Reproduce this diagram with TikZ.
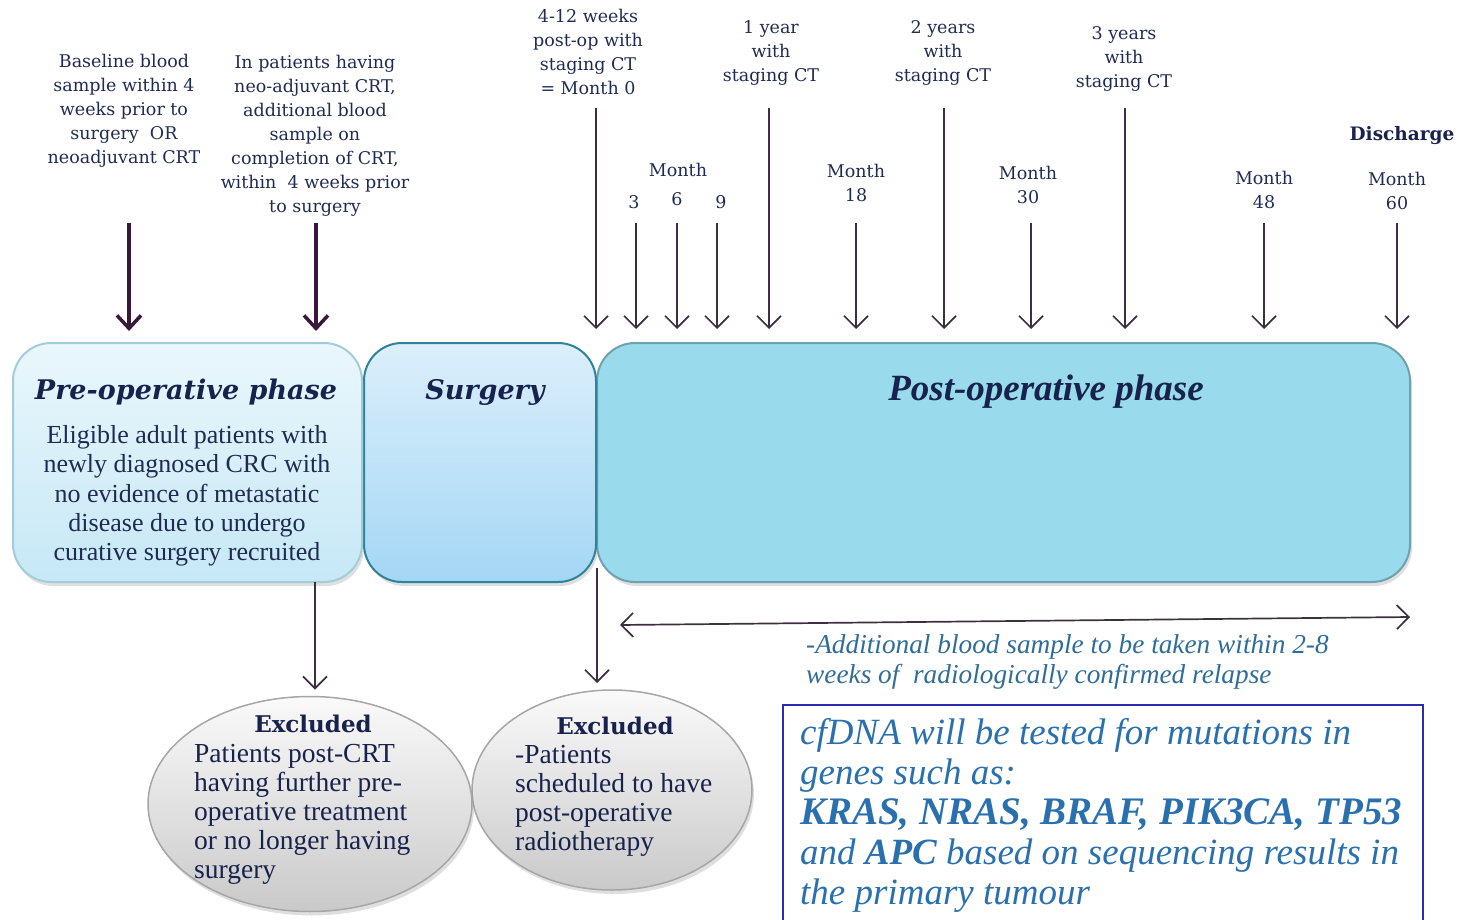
\documentclass[tikz,border=0pt]{standalone}
\usepackage{fontspec}
\setmainfont{Liberation Serif}
\newfontfamily\dvs{DejaVu Serif}
\usetikzlibrary{arrows.meta,shadows,shapes.geometric}
\definecolor{navy}{HTML}{1F2B52}
\definecolor{titlec}{HTML}{17224D}
\definecolor{arrowc}{HTML}{3D2F40}
\definecolor{thickc}{HTML}{38193B}
\definecolor{preborder}{HTML}{A3CCDB}
\definecolor{pretop}{HTML}{EAF7FC}
\definecolor{prebot}{HTML}{C6E8F6}
\definecolor{surgborder}{HTML}{2E8398}
\definecolor{surgtop}{HTML}{DCEFFB}
\definecolor{surgbot}{HTML}{A4D6F5}
\definecolor{postborder}{HTML}{6FA2AF}
\definecolor{postfill}{HTML}{99DBEC}
\definecolor{bluetext}{HTML}{2A70AE}
\definecolor{relapsec}{HTML}{2F6D98}
\definecolor{boxblue}{HTML}{2B2BB0}
\tikzset{
  toplabel/.style={inner sep=0pt, align=center, text=navy, font=\dvs\fontsize{17.5}{24}\selectfont},
  phasebox/.style={inner sep=0pt, outer sep=0pt, line width=2pt, rounded corners=38pt,
     drop shadow={shadow xshift=2pt, shadow yshift=-4pt, opacity=0.25}},
  thinarrow/.style={draw=arrowc, line width=1.7pt, -{Straight Barb[length=12pt,width=24pt,line width=1.7pt]}},
  thickarrow/.style={draw=thickc, line width=4pt, -{Straight Barb[length=13pt,width=24pt,line width=3.5pt]}},
  exclbox/.style={ellipse, inner sep=0pt, outer sep=0pt, draw=gray!70, line width=1.5pt,
     top color=white!96!gray, bottom color=gray!42,
     drop shadow={shadow xshift=2pt, shadow yshift=-4pt, opacity=0.25}},
  excltitle/.style={inner sep=0pt, text=titlec, font=\dvs\bfseries\fontsize{23}{28}\selectfont},
  excltext/.style={inner sep=0pt, align=left, text=titlec, font=\fontsize{27.5}{29}\selectfont},
}
\begin{document}
\begin{tikzpicture}[x=1pt,y=-1pt]
\useasboundingbox (0,0) rectangle (1459,920);

% phase boxes
\node[phasebox, draw=postborder, fill=postfill, minimum width=813pt, minimum height=239pt] (post) at (1003.5,462.5) {};
\node[phasebox, draw=surgborder, top color=surgtop, bottom color=surgbot, minimum width=232pt, minimum height=239pt] (surg) at (480,462.5) {};
\node[phasebox, draw=preborder, top color=pretop, bottom color=prebot, minimum width=349pt, minimum height=239pt] (pre) at (187.5,462.5) {};

\node[inner sep=0pt, text=titlec, font=\dvs\bfseries\itshape\fontsize{27}{30}\selectfont] (pretitle) at (186,392) {Pre-operative phase};
\node[inner sep=0pt, text=titlec, font=\dvs\bfseries\itshape\fontsize{27}{30}\selectfont] (surgtitle) at (485,392) {Surgery};
\node[inner sep=0pt, text=titlec, font=\bfseries\itshape\fontsize{37}{40}\selectfont] (posttitle) at (1046,392) {Post-operative phase};
\node[inner sep=0pt, align=center, text=navy, font=\fontsize{26}{29.3}\selectfont] (prebody) at (187,496) {Eligible adult patients with\\newly diagnosed CRC with\\no evidence of metastatic\\disease due to undergo\\curative surgery recruited};

% top labels
\node[toplabel] (l1) at (124,111) {Baseline blood\\sample within 4\\weeks prior to\\surgery\ \ OR\\neoadjuvant CRT};
\node[toplabel] (l2) at (315,136) {In patients having\\neo-adjuvant CRT,\\additional blood\\sample on\\completion of CRT,\\within\ \ 4 weeks prior\\to surgery};
\node[toplabel] (l3) at (588,52) {4-12 weeks\\post-op with\\staging CT\\= Month 0};
\node[toplabel] (l4) at (771,53) {1 year\\with\\staging CT};
\node[toplabel] (l5) at (943,53) {2 years\\with\\staging CT};
\node[toplabel] (l6) at (1124,59) {3 years\\with\\staging CT};
\node[toplabel] (m1) at (678,170) {Month};
\node[toplabel] (m3) at (634,202) {3};
\node[toplabel] (m6) at (677,199) {6};
\node[toplabel] (m9) at (721,202) {9};
\node[toplabel] (m18) at (856,183) {Month\\18};
\node[toplabel] (m30) at (1028,185) {Month\\30};
\node[toplabel] (m48) at (1264,189.5) {Month\\48};
\node[inner sep=0pt, text=titlec, font=\dvs\bfseries\fontsize{18.5}{24}\selectfont] (disc) at (1402,136) {Discharge};
\node[toplabel] (m60) at (1397,190.5) {Month\\60};

% arrow start points
\coordinate (a1) at (129,223);
\coordinate (a2) at (316,223);
\coordinate (t0) at (596,108);
\coordinate (t3) at (636,223);
\coordinate (t6) at (677,223);
\coordinate (t9) at (717,223);
\coordinate (t12) at (769,108);
\coordinate (t18) at (856,223);
\coordinate (t24) at (944,108);
\coordinate (t30) at (1031,223);
\coordinate (t36) at (1125,108);
\coordinate (t48) at (1264,223);
\coordinate (t60) at (1397,223);

\draw[thickarrow, shorten >=12pt] (a1) -- (a1 |- pre.north);
\draw[thickarrow, shorten >=12pt] (a2) -- (a2 |- pre.north);
\foreach \c in {t0,t3,t6,t9,t12,t18,t24,t30,t36,t48,t60}
  \draw[thinarrow, shorten >=14pt] (\c) -- (\c |- post.north);

% exclusion ellipses
\node[exclbox, minimum width=280pt, minimum height=200pt] (exc2) at (612,790) {};
\node[exclbox, minimum width=324pt, minimum height=215pt] (exc1) at (310,804) {};
\node[excltitle] (ex1t) at (313,724) {Excluded};
\node[excltext, anchor=west] (ex1b) at (194,814) {Patients post-CRT\\having further pre-\\operative treatment\\or no longer having\\surgery};
\node[excltitle] (ex2t) at (615,726) {Excluded};
\node[excltext, anchor=west] (ex2b) at (515,800.5) {-Patients\\scheduled to have\\post-operative\\radiotherapy};

\coordinate (b1) at (315,582);
\coordinate (b2) at (597,568);
\draw[thinarrow, shorten >=7pt] (b1) -- (b1 |- exc1.north);
\draw[thinarrow, shorten >=7pt] (b2) -- (b2 |- exc2.north);

% relapse double arrow
\coordinate (dl) at (620,625);
\coordinate (dr) at (1410,617);
\draw[draw=arrowc, line width=1.7pt, {Straight Barb[length=12pt,width=24pt,line width=1.7pt]}-{Straight Barb[length=12pt,width=24pt,line width=1.7pt]}] (dl) -- (dr);
\node[inner sep=0pt, anchor=west, align=left, text=relapsec, font=\itshape\fontsize{27.3}{30}\selectfont] (relapse) at (806,662) {-Additional blood sample to be taken within 2-8\\weeks of\ \ radiologically confirmed relapse};

% cfDNA box
\draw[draw=boxblue, line width=2pt] (783,705) rectangle (1423,930);
\node[inner sep=0pt, anchor=west, align=left, text=bluetext, font=\itshape\fontsize{37}{40}\selectfont] (cfdna) at (800,815) {cfDNA will be tested for mutations in\\genes such as:\\\textbf{\fontsize{39}{40}\selectfont KRAS, NRAS, BRAF, PIK3CA, TP53}\\and \textbf{APC} based on sequencing results in\\the primary tumour};
\end{tikzpicture}
\end{document}
